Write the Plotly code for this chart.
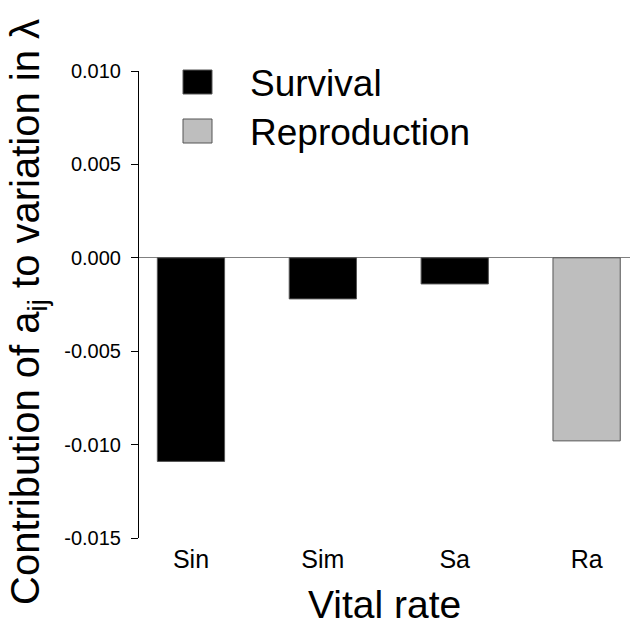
import plotly.graph_objects as go

# Vital-rate contributions to variation in lambda
rates = ["Sin", "Sim", "Sa", "Ra"]
contrib = [-0.0109, -0.0022, -0.0014, -0.0098]
rate_type = ["Survival", "Survival", "Survival", "Reproduction"]

series_names = ["Survival", "Reproduction"]
series_colors = {"Survival": "#000000", "Reproduction": "#bebebe"}

y_ticks = [0.010, 0.005, 0.000, -0.005, -0.010, -0.015]
y_tick_text = ["0.010", "0.005", "0.000", "-0.005", "-0.010", "-0.015"]

FONT = "Liberation Sans, Arial, sans-serif"

# plot-area geometry in pixels
L, T, R, B = 139, 71, 0, 87
W, H = 630, 625

fig = go.Figure()
fig.add_trace(go.Bar(
    x=rates,
    y=contrib,
    marker=dict(color=[series_colors[t] for t in rate_type],
                line=dict(color="#555555", width=1)),
    showlegend=False,
))


def px_annot(text, X, Y, size, xanchor="left", textangle=0):
    """Place a text annotation at page pixel (X, Y)."""
    fig.add_annotation(
        text=text, xref="paper", yref="paper", x=0, y=1,
        xshift=X - L, yshift=-(Y - T),
        xanchor=xanchor, yanchor="middle", showarrow=False,
        textangle=textangle, font=dict(family=FONT, size=size, color="black"),
    )


# legend keys and labels
key_tops = [70, 119]
for name, top in zip(series_names, key_tops):
    fig.add_shape(
        type="rect", xref="paper", yref="paper",
        x0=(183 - L) / (W - L - R), x1=(212 - L) / (W - L - R),
        y0=1 - (top - T) / (H - T - B), y1=1 - (top + 24 - T) / (H - T - B),
        fillcolor=series_colors[name], line=dict(color="#555555", width=1),
    )
    px_annot(name, 248, top + 13, 37)

# axis titles
px_annot("Vital rate", 384, 604, 39, xanchor="center")
px_annot("Contribution of a<sub>ij</sub> to variation in λ", 28, 312, 40,
         xanchor="center", textangle=-90)

fig.update_layout(
    width=W, height=H,
    margin=dict(l=L, r=R, t=T, b=B, pad=0),
    paper_bgcolor="white", plot_bgcolor="white",
    bargap=0.49,
    font=dict(family=FONT, color="black"),
    xaxis=dict(
        type="category", range=[-0.394, 3.329],
        showline=False, showgrid=False, zeroline=False,
        ticks="", tickfont=dict(size=25), ticklabelstandoff=4,
    ),
    yaxis=dict(
        range=[-0.015, 0.010],
        tickvals=y_ticks, ticktext=y_tick_text,
        showline=True, linecolor="black", linewidth=1,
        ticks="outside", ticklen=7, tickcolor="black",
        tickfont=dict(size=20), ticklabelstandoff=6,
        showgrid=False,
        zeroline=True, zerolinecolor="#808080", zerolinewidth=1,
    ),
)

fig.write_html("out.html")
